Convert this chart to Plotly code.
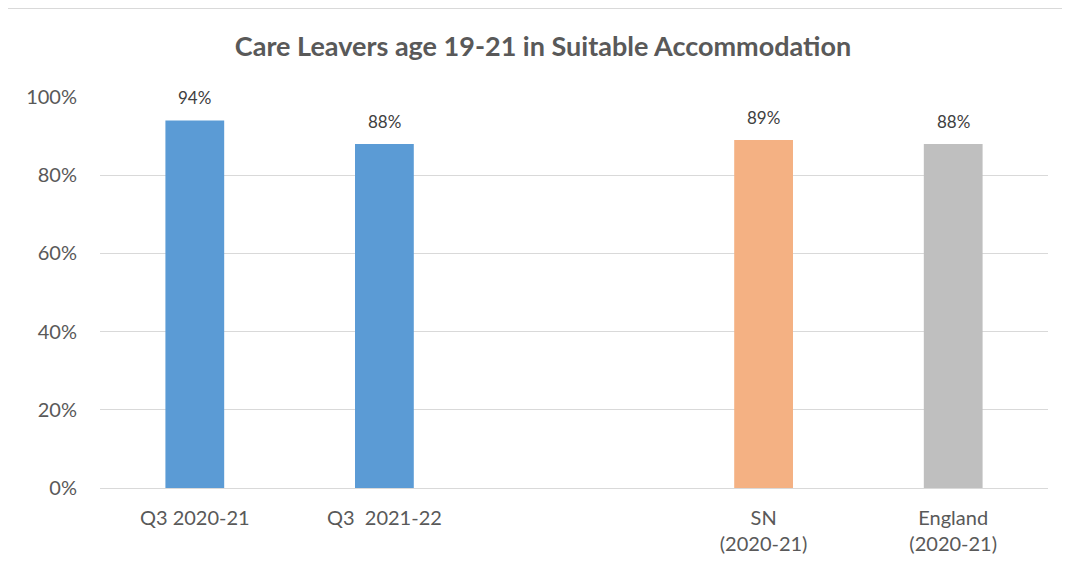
import plotly.graph_objects as go

categories = ["Q3 2020-21", "Q3\u00a0 2021-22", "", "SN<br>(2020-21)", "England<br>(2020-21)"]
values = [0.94, 0.88, None, 0.89, 0.88]
labels = ["94%", "88%", "", "89%", "88%"]
colors = ["#5B9BD5", "#5B9BD5", "#FFFFFF", "#F4B183", "#BFBFBF"]

idx = [i for i, v in enumerate(values) if v is not None]
FONT = "Lato, Open Sans, sans-serif"

fig = go.Figure()
fig.add_trace(go.Bar(
    x=idx,
    y=[values[i] for i in idx],
    marker=dict(color=[colors[i] for i in idx], line=dict(width=0)),
    width=0.31,
    hoverinfo="skip",
))

for i in idx:
    fig.add_annotation(x=i, y=values[i], text=labels[i], showarrow=False,
                       xref="x", yref="y", yanchor="bottom", yshift=10,
                       font=dict(family=FONT, size=17, color="#404040"))

# page body has an 8px margin; figure coords = screen coords - 8
W, H = 1062, 564
L, R, T, B = 92, 1062 - 1040, 89, 564 - 480
pw, ph = W - L - R, H - T - B

def px(x):
    return (x - L) / pw

def py(y):
    return (H - B - y) / ph

fig.add_shape(type="line", xref="paper", yref="paper",
              x0=px(0), x1=px(1062), y0=py(0.5), y1=py(0.5),
              line=dict(color="#D9D9D9", width=1), layer="below")

fig.update_layout(
    width=W, height=H,
    margin=dict(l=L, r=R, t=T, b=B),
    paper_bgcolor="white", plot_bgcolor="white",
    showlegend=False,
    title=dict(text="<b>Care Leavers age 19-21 in Suitable Accommodation</b>",
               x=(543 - 8 - L) / pw, xanchor="center", xref="paper",
               y=1 - 39 / H, yanchor="middle",
               font=dict(family=FONT, size=27, color="#595959")),
    xaxis=dict(range=[-0.5, 4.5], tickmode="array", tickvals=list(range(len(categories))),
               ticktext=categories, showgrid=False, zeroline=False, showline=True,
               linecolor="#D9D9D9", linewidth=1, ticks="", ticklabelstandoff=12,
               tickfont=dict(family=FONT, size=20, color="#595959")),
    yaxis=dict(range=[0, 1], tickvals=[0, 0.2, 0.4, 0.6, 0.8, 1.0], tickformat=".0%",
               showgrid=True, gridcolor="#D9D9D9", gridwidth=1, zeroline=False,
               showline=False, ticks="", ticklabelstandoff=22,
               tickfont=dict(family=FONT, size=20, color="#595959")),
    font=dict(family=FONT),
)

fig.write_html("out.html")
